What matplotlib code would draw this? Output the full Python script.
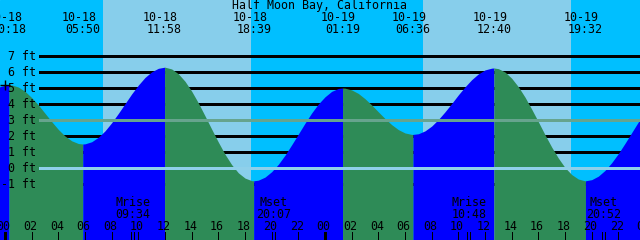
import numpy as np
import matplotlib.pyplot as plt

title = 'Half Moon Bay, California'
dates = ['10-18', '10-19']

# high / low tides from the table at the top
tide_dates = ['10-18', '10-18', '10-18', '10-18', '10-19', '10-19', '10-19', '10-19']
tide_times = ['00:18', '05:50', '11:58', '18:39', '01:19', '06:36', '12:40', '19:32']
tide_heights = [5.2, 1.5, 6.3, -0.8, 5.0, 2.1, 6.25, -0.8]

# sunrise, sunset, sunrise, sunset
sun_dates = ['10-18', '10-18', '10-19', '10-19']
sun_times = ['07:21', '18:27', '07:22', '18:26']

moon_events = ['Mrise', 'Mset', 'Mrise', 'Mset']
moon_dates = ['10-18', '10-18', '10-19', '10-19']
moon_times = ['09:34', '20:07', '10:48', '20:52']

# water level (ft), read every half hour starting 10-18 -00:30
level_start, level_step = -0.5, 0.5
level = [5.05, 5.17, 5.19, 5.06, 4.79, 4.40, 3.94, 3.42, 2.90, 2.41,
         2.00, 1.70, 1.53, 1.51, 1.64, 1.92, 2.32, 2.83, 3.41, 4.02,
         4.63, 5.18, 5.66, 6.01, 6.23, 6.30, 6.19, 5.89, 5.42, 4.80,
         4.07, 3.26, 2.43, 1.62, 0.86, 0.21, -0.30, -0.63, -0.79, -0.76,
         -0.57, -0.23, 0.23, 0.80, 1.45, 2.12, 2.80, 3.44, 4.00, 4.45,
         4.79, 4.97, 4.99, 4.88, 4.66, 4.33, 3.94, 3.51, 3.09, 2.71,
         2.40, 2.19, 2.10, 2.14, 2.32, 2.62, 3.03, 3.51, 4.03, 4.57,
         5.07, 5.52, 5.88, 6.13, 6.24, 6.21, 6.00, 5.61, 5.08, 4.43,
         3.68, 2.89, 2.08, 1.31, 0.62, 0.03, -0.41, -0.69, -0.80, -0.73,
         -0.51, -0.15, 0.33, 0.90, 1.54, 2.21, 2.88, 3.50]

NIGHT = '#00bfff'
DAY = '#87ceeb'
RISE = '#0000ff'
FALL = '#2e8b57'
MSL = '#66a48e'
DATUM = '#8fd0ea'
FONT = dict(family='DejaVu Sans Mono', size=8.4, color='black')


def hours(d, t):
    hh, mm = t.split(':')
    return dates.index(d) * 24 + int(hh) + int(mm) / 60


X0, X1 = -0.375, 47.625
Y0, Y1 = -4.5, 10.5
PXH = 640 / (X1 - X0)   # pixels per hour


def ay(py):  # pixel row -> axes fraction
    return 1 - py / 240


fig = plt.figure(figsize=(6.4, 2.4), dpi=100)
ax = fig.add_axes([0, 0, 1, 1])
ax.set_xlim(X0, X1)
ax.set_ylim(Y0, Y1)
ax.axis('off')
ax.add_patch(plt.Rectangle((0, 0), 1, 1, transform=ax.transAxes,
                           color=NIGHT, zorder=0))

sun_x = [hours(d, t) for d, t in zip(sun_dates, sun_times)]
for a, b in zip(sun_x[0::2], sun_x[1::2]):
    ax.axvspan(a, b, color=DAY, lw=0, zorder=0.5)

# grid lines behind the water
line_x0 = X0 + 39 / PXH
for ft in range(-1, 8):
    if ft in (0, 3):
        continue
    ax.hlines(ft, line_x0, X1, color='black', lw=1, zorder=1, antialiased=False)
ax.hlines(3, line_x0, X1, color=MSL, lw=1, zorder=3, antialiased=False)
ax.hlines(0, line_x0, X1, color=DATUM, lw=1, zorder=3, antialiased=False)

# water
ext_x = [hours(d, t) for d, t in zip(tide_dates, tide_times)]
grid_t = level_start + level_step * np.arange(len(level))
t = np.concatenate([grid_t, ext_x])
h = np.concatenate([level, tide_heights])
order = np.argsort(t)
t, h = t[order], h[order]
bounds = [t[0]] + ext_x + [t[-1]]
for a, b in zip(bounds[:-1], bounds[1:]):
    m = (t >= a) & (t <= b)
    col = RISE if h[m][-1] > h[m][0] else FALL
    ax.fill_between(t[m], Y0, h[m], color=col, lw=0, zorder=2, antialiased=False)

ylab = ax.get_yaxis_transform()
for ft in range(-1, 8):
    ax.text(36 / 640, ft - 3.5 / 16, f'{ft} ft', transform=ylab,
            ha='right', va='baseline', zorder=4, **FONT)

xtr = ax.get_xaxis_transform()
ax.text(0.5, ay(9), title, transform=ax.transAxes, ha='center',
        va='baseline', zorder=4, **FONT)
for x, d, tm in zip(ext_x, tide_dates, tide_times):
    ax.text(x - 0.3, ay(21), d, transform=xtr, ha='center', va='baseline', zorder=4, **FONT)
    ax.text(x, ay(33), tm, transform=xtr, ha='center', va='baseline', zorder=4, **FONT)

# hour axis
for hr in range(0, 49, 2):
    ax.text(hr - 0.1, ay(230), f'{hr % 24:02d}', transform=xtr, ha='center',
            va='baseline', zorder=4, **FONT)
    ax.vlines(hr, ay(240), ay(232), transform=xtr, color='black',
              lw=2.16 if hr % 24 == 0 else 0.72, zorder=3, antialiased=False)

for ev, d, tm in zip(moon_events, moon_dates, moon_times):
    x = hours(d, tm)
    ax.text(x, ay(206), ev, transform=xtr, ha='center', va='baseline', zorder=4, **FONT)
    ax.text(x, ay(218), tm, transform=xtr, ha='center', va='baseline', zorder=4, **FONT)
    for dx in (-1.5, 1.5):
        ax.vlines(x + dx / PXH, ay(240), ay(232), transform=xtr, color='black',
                  lw=0.72, zorder=3, antialiased=False)

# current time marker
i0 = int(round((0 - level_start) / level_step))
ax.plot(0, level[i0], '+', color='black', ms=6.5, mew=1, zorder=5)

fig.savefig('out.png', dpi=100)
